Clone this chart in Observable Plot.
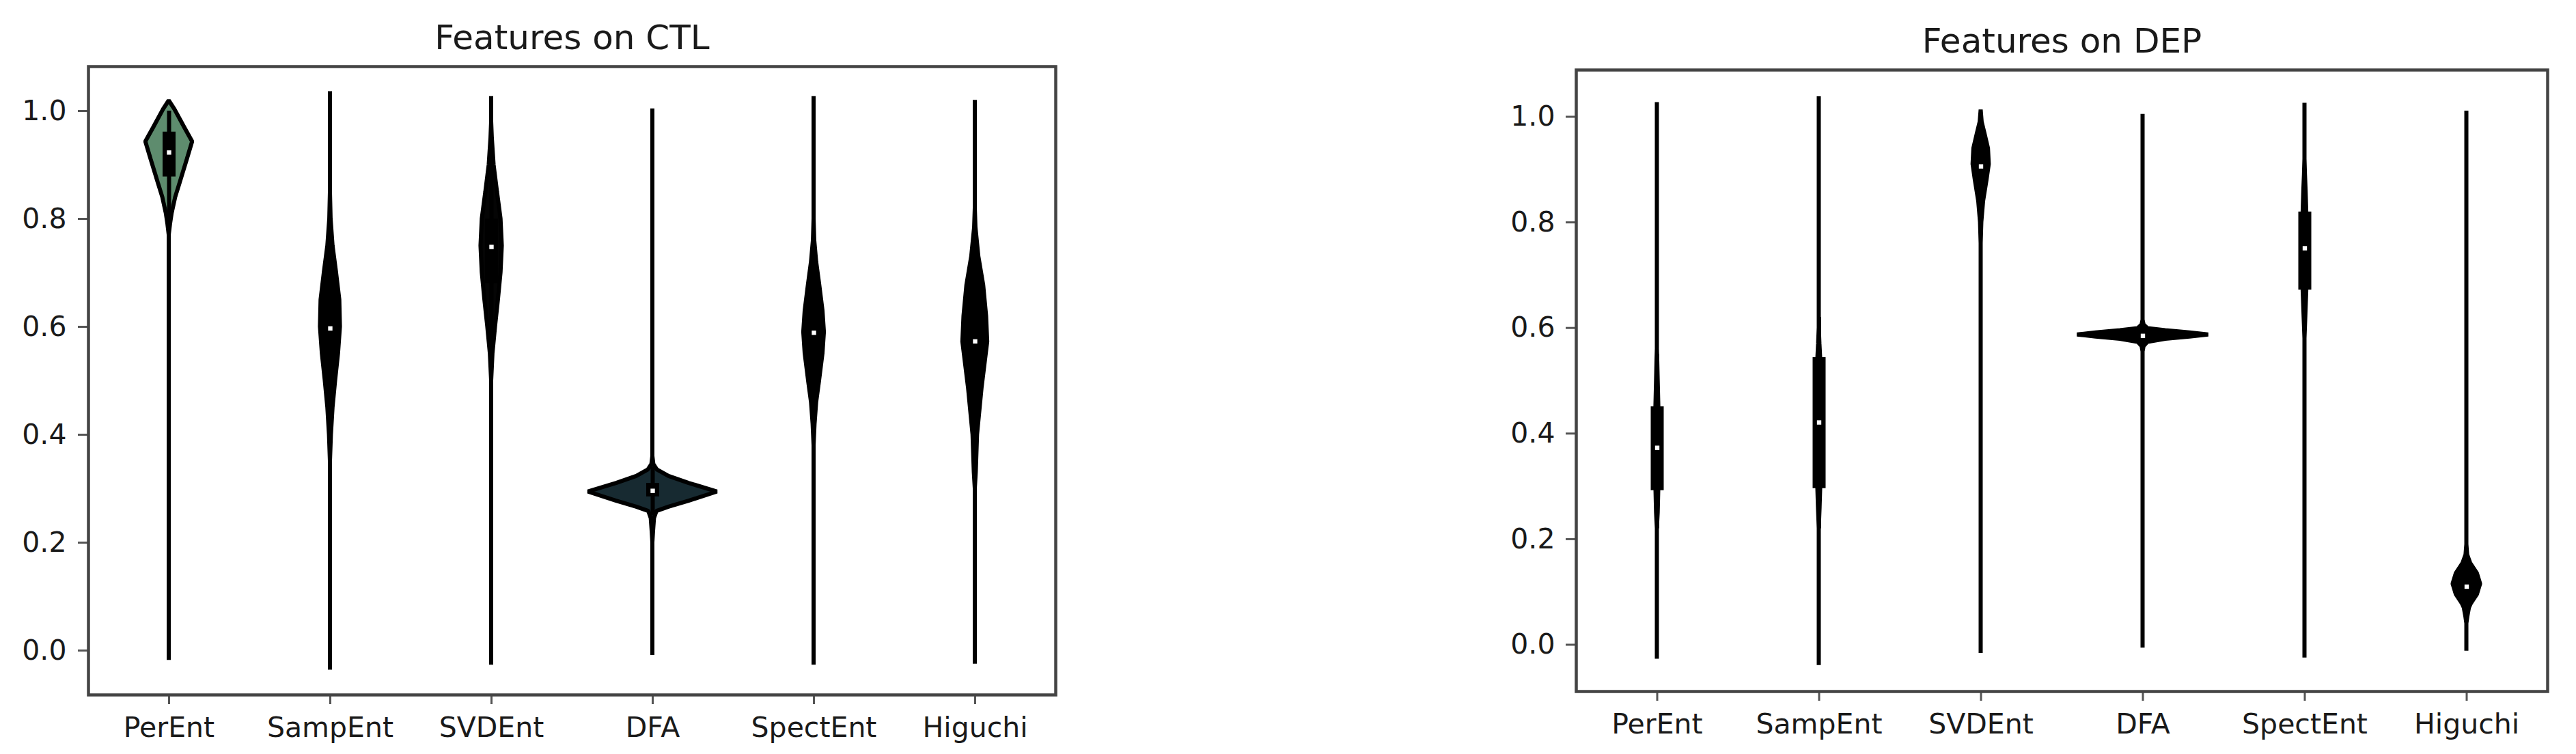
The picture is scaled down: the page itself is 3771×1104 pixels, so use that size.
<!DOCTYPE html>
<html>
<head>
<meta charset="utf-8">
<script src="https://cdn.jsdelivr.net/npm/d3@7"></script>
<script src="https://cdn.jsdelivr.net/npm/@observablehq/plot@0.6"></script>
<style>
  html, body { margin: 0; padding: 0; background: #fff; }
  #wrap { position: relative; width: 3771px; height: 1104px; background: #fff; overflow: hidden; }
  #wrap svg { position: absolute; top: 0; }
</style>
</head>
<body>
<div id="wrap"></div>
<script>
// ---------- data ----------
const features = ["PerEnt", "SampEnt", "SVDEnt", "DFA", "SpectEnt", "Higuchi"];
const yTicks = [0, 0.2, 0.4, 0.6, 0.8, 1.0];
const titles = ["Features on CTL", "Features on DEP"];

// violin profiles: [value, half-width (in category units)]
const ctlPerEnt   = [[-0.018,0],[0.77,0],[0.79,0.008],[0.81,0.018],[0.84,0.04],[0.867,0.068],[0.91,0.112],[0.943,0.145],[0.97,0.095],[1.003,0.035],[1.019,0]];
const ctlSampEnt  = [[-0.036,0],[0.35,0],[0.40,0.006],[0.45,0.016],[0.50,0.032],[0.55,0.05],[0.60,0.062],[0.65,0.058],[0.70,0.038],[0.75,0.016],[0.80,0.004],[0.85,0],[1.036,0]];
const ctlSVDEnt   = [[-0.027,0],[0.50,0],[0.55,0.008],[0.60,0.024],[0.65,0.042],[0.70,0.058],[0.75,0.066],[0.80,0.058],[0.85,0.036],[0.90,0.015],[0.95,0.004],[0.98,0],[1.027,0]];
const ctlDFA      = [[-0.009,0],[0.20,0],[0.22,0.004],[0.245,0.01],[0.258,0.025],[0.266,0.10],[0.277,0.225],[0.294,0.40],[0.31,0.225],[0.323,0.10],[0.335,0.028],[0.345,0.006],[0.36,0],[1.004,0]];
const ctlSpectEnt = [[-0.027,0],[0.38,0],[0.42,0.006],[0.46,0.016],[0.50,0.034],[0.55,0.055],[0.59,0.064],[0.63,0.055],[0.68,0.034],[0.72,0.016],[0.76,0.004],[0.80,0],[1.027,0]];
const ctlHiguchi  = [[-0.025,0],[0.30,0],[0.33,0.006],[0.40,0.014],[0.487,0.042],[0.572,0.077],[0.62,0.07],[0.677,0.052],[0.73,0.022],[0.784,0.004],[0.82,0],[1.02,0]];

const depPerEnt   = [[-0.027,0],[0.22,0],[0.25,0.005],[0.30,0.009],[0.45,0.009],[0.50,0.005],[0.54,0.002],[0.56,0],[1.027,0]];
const depSampEnt  = [[-0.039,0],[0.22,0],[0.26,0.005],[0.30,0.009],[0.54,0.009],[0.57,0.004],[0.60,0],[1.038,0]];
const depSVDEnt   = [[-0.016,0],[0.76,0],[0.80,0.004],[0.84,0.015],[0.88,0.036],[0.91,0.05],[0.94,0.045],[0.97,0.022],[0.99,0.006],[1.013,0]];
const depDFA      = [[-0.006,0],[0.555,0],[0.565,0.006],[0.573,0.03],[0.579,0.14],[0.583,0.29],[0.587,0.405],[0.591,0.29],[0.595,0.14],[0.599,0.03],[0.606,0.006],[0.615,0],[1.005,0]];
const depSpectEnt = [[-0.025,0],[0.58,0],[0.62,0.005],[0.67,0.011],[0.82,0.011],[0.86,0.007],[0.89,0.003],[0.92,0],[1.026,0]];
const depHiguchi  = [[-0.012,0],[0.04,0],[0.053,0.006],[0.07,0.016],[0.078,0.028],[0.095,0.065],[0.115,0.085],[0.135,0.065],[0.154,0.024],[0.17,0.005],[0.19,0],[1.011,0]];

const ctlProfiles = [ctlPerEnt, ctlSampEnt, ctlSVDEnt, ctlDFA, ctlSpectEnt, ctlHiguchi];
const depProfiles = [depPerEnt, depSampEnt, depSVDEnt, depDFA, depSpectEnt, depHiguchi];

// inner box statistics
const ctlQ1     = [0.878, 0.53, 0.68, 0.285, 0.53, 0.52];
const ctlMedian = [0.923, 0.597, 0.748, 0.296, 0.589, 0.573];
const ctlQ3     = [0.961, 0.68, 0.80, 0.31, 0.65, 0.63];
const ctlLow    = [0.80, 0.40, 0.55, 0.25, 0.42, 0.40];
const ctlHigh   = [1.0, 0.80, 0.95, 0.34, 0.76, 0.76];

const depQ1     = [0.292, 0.296, 0.89, 0.58, 0.672, 0.10];
const depMedian = [0.373, 0.421, 0.906, 0.585, 0.751, 0.11];
const depQ3     = [0.451, 0.544, 0.925, 0.59, 0.82, 0.125];
const depLow    = [0.22, 0.22, 0.84, 0.57, 0.60, 0.06];
const depHigh   = [0.55, 0.62, 0.98, 0.60, 0.88, 0.16];

// ---------- styles ----------
const ctlFills = ["#5e8c6e", "#000000", "#050505", "#172a31", "#000000", "#000000"];
const depFills = ["#000000", "#000000", "#000000", "#000000", "#000000", "#000000"];

function panel({profiles, q1, med, q3, lo, hi, fills, title, left, width, mLeft, mRight, mTop, mBottom, yDomain, padY}) {
  const marks = [];
  profiles.forEach((prof, i) => {
    const c = i + 1;
    marks.push(Plot.areaX(prof, {
      y: d => d[0], x1: d => c - d[1], x2: d => c + d[1],
      fill: fills[i], stroke: "#000", strokeWidth: 6, strokeLinejoin: "miter"
    }));
  });
  const idx = features.map((f, i) => i);
  marks.push(Plot.ruleX(idx, {x: i => i + 1, y1: i => lo[i], y2: i => hi[i], stroke: "#000", strokeWidth: 6}));
  marks.push(Plot.ruleX(idx, {x: i => i + 1, y1: i => q1[i], y2: i => q3[i], stroke: "#000", strokeWidth: 19}));
  marks.push(Plot.dot(idx, {x: i => i + 1, y: i => med[i], symbol: "square", r: 3.6, fill: "#fff", stroke: "none"}));
  marks.push(Plot.axisX({ticks: [1,2,3,4,5,6], tickFormat: d => features[d - 1], tickSize: 14, tickPadding: 18, strokeWidth: 3, stroke: "#555", fill: "#1a1a1a", label: null}));
  marks.push(Plot.axisY({ticks: yTicks, tickFormat: d => d.toFixed(1), tickSize: 15, tickPadding: padY, strokeWidth: 3, stroke: "#555", fill: "#1a1a1a", label: null}));
  marks.push(Plot.frame({stroke: "#444", strokeWidth: 4.5}));
  marks.push(Plot.text([title], {frameAnchor: "top", dy: -26, lineAnchor: "bottom", fontSize: 50, fill: "#1a1a1a"}));
  const svg = Plot.plot({
    width, height: 1104,
    marginLeft: mLeft, marginRight: mRight, marginTop: mTop, marginBottom: mBottom,
    x: {type: "linear", domain: [0.5, 6.5]},
    y: {type: "linear", domain: yDomain},
    style: {fontFamily: "'DejaVu Sans', sans-serif", fontSize: "41px", background: "transparent", color: "#1a1a1a", overflow: "visible"},
    marks
  });
  svg.style.left = left + "px";
  return svg;
}

const wrap = document.getElementById("wrap");
wrap.appendChild(panel({
  profiles: ctlProfiles, q1: ctlQ1, med: ctlMedian, q3: ctlQ3, lo: ctlLow, hi: ctlHigh,
  fills: ctlFills, title: titles[0],
  left: 0, width: 1650, mLeft: 129, mRight: 105, mTop: 97, mBottom: 87,
  yDomain: [-0.0823, 1.0823], padY: 17
}));
wrap.appendChild(panel({
  profiles: depProfiles, q1: depQ1, med: depMedian, q3: depQ3, lo: depLow, hi: depHigh,
  fills: depFills, title: titles[1],
  left: 2150, width: 1621, mLeft: 157, mRight: 42, mTop: 102, mBottom: 92,
  yDomain: [-0.0886, 1.0886], padY: 16
}));
</script>
</body>
</html>
